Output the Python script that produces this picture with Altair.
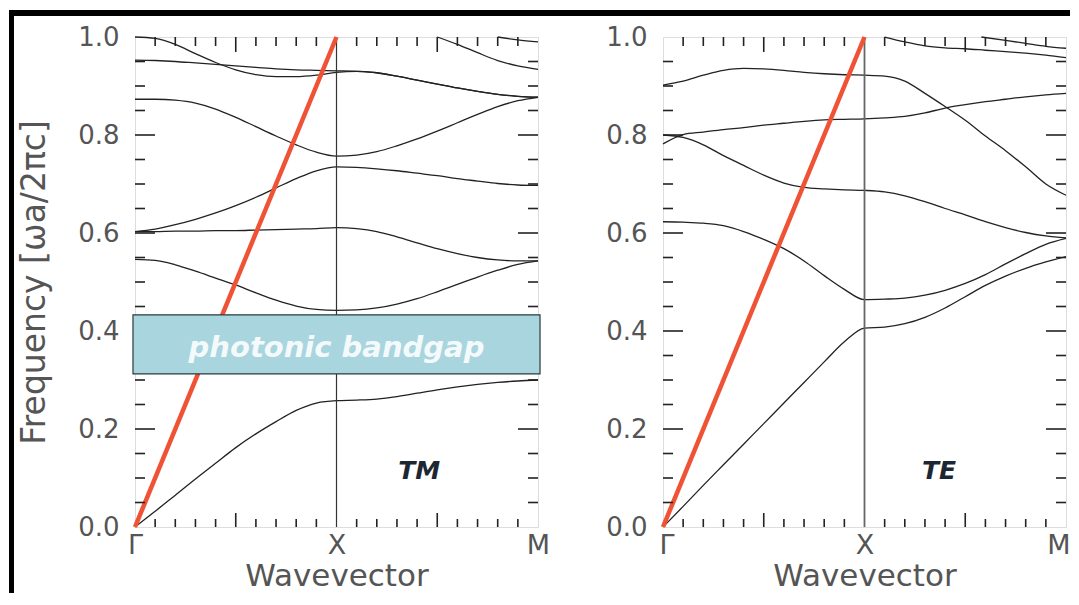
import altair as alt
import pandas as pd

# ---------------- data ----------------
K = [0.0, 0.1, 0.2, 0.3, 0.4, 0.5, 0.6, 0.7, 0.8, 0.9, 1.0,
     1.1, 1.2, 1.3, 1.4, 1.5, 1.6, 1.7, 1.8, 1.9, 2.0]

# TM bands (frequency values on the K grid)
tm1 = [0.000, 0.032, 0.065, 0.098, 0.130, 0.162, 0.190, 0.215, 0.238, 0.253, 0.258,
       0.259, 0.261, 0.266, 0.273, 0.280, 0.286, 0.291, 0.295, 0.298, 0.300]
tm2 = [0.546, 0.544, 0.535, 0.522, 0.508, 0.494, 0.478, 0.463, 0.451, 0.444, 0.442,
       0.443, 0.447, 0.455, 0.466, 0.480, 0.495, 0.510, 0.524, 0.536, 0.543]
tm3 = [0.603, 0.603, 0.604, 0.604, 0.605, 0.605, 0.606, 0.607, 0.608, 0.609, 0.611,
       0.609, 0.603, 0.592, 0.580, 0.568, 0.558, 0.550, 0.545, 0.543, 0.543]
tm4 = [0.603, 0.608, 0.617, 0.628, 0.641, 0.656, 0.673, 0.692, 0.711, 0.727, 0.735,
       0.734, 0.731, 0.727, 0.722, 0.717, 0.711, 0.706, 0.701, 0.698, 0.697]
tm5 = [0.873, 0.873, 0.871, 0.865, 0.853, 0.836, 0.817, 0.798, 0.780, 0.765, 0.757,
       0.759, 0.766, 0.778, 0.792, 0.808, 0.825, 0.842, 0.858, 0.870, 0.877]
tm6 = [0.953, 0.952, 0.950, 0.947, 0.944, 0.941, 0.938, 0.935, 0.933, 0.932, 0.931,
       0.930, 0.927, 0.920, 0.912, 0.904, 0.896, 0.889, 0.883, 0.879, 0.877]
tm7 = [1.000, 0.997, 0.985, 0.966, 0.948, 0.933, 0.923, 0.919, 0.919, 0.922, 0.928,
       0.930, 0.927, 0.920, 0.912, 0.904, 0.896, 0.889, 0.883, 0.879, 0.877]
tm8_k = [1.5, 1.6, 1.7, 1.8, 1.9, 2.0]
tm8 = [1.000, 0.985, 0.968, 0.952, 0.941, 0.934]
tm9_k = [1.8, 1.9, 2.0]
tm9 = [1.000, 0.994, 0.990]

# TE bands
te1 = [0.000, 0.042, 0.085, 0.127, 0.169, 0.211, 0.253, 0.295, 0.337, 0.378, 0.406,
       0.408, 0.415, 0.428, 0.447, 0.470, 0.493, 0.512, 0.528, 0.541, 0.552]
te2 = [0.623, 0.622, 0.620, 0.615, 0.603, 0.587, 0.568, 0.543, 0.513, 0.485, 0.464,
       0.465, 0.467, 0.473, 0.483, 0.497, 0.515, 0.537, 0.558, 0.577, 0.589]
te3 = [0.800, 0.795, 0.780, 0.758, 0.738, 0.718, 0.702, 0.693, 0.690, 0.688, 0.687,
       0.684, 0.676, 0.664, 0.650, 0.637, 0.623, 0.611, 0.601, 0.594, 0.590]
te4 = [0.782, 0.801, 0.806, 0.811, 0.815, 0.820, 0.824, 0.828, 0.831, 0.832, 0.833,
       0.835, 0.838, 0.845, 0.855, 0.862, 0.868, 0.873, 0.878, 0.882, 0.885]
te5 = [0.902, 0.910, 0.922, 0.932, 0.936, 0.935, 0.932, 0.928, 0.925, 0.923, 0.922,
       0.920, 0.910, 0.885, 0.858, 0.830, 0.798, 0.768, 0.735, 0.700, 0.677]
te6_k = [1.1, 1.2, 1.3, 1.4, 1.5, 1.6, 1.7, 1.8, 1.9, 2.0]
te6 = [1.000, 0.990, 0.982, 0.978, 0.976, 0.973, 0.970, 0.967, 0.963, 0.958]
te7_k = [1.58, 1.7, 1.8, 1.9, 2.0]
te7 = [1.000, 0.993, 0.987, 0.981, 0.977]

light_k = [0.0, 1.0]
light_v = [0.0, 1.0]

gap_k = [-0.01, 2.01]
gap_v = [0.3125, 0.433]

y_major = [0.2, 0.4, 0.6, 0.8]
y_minor = [0.05, 0.1, 0.15, 0.25, 0.3, 0.35, 0.45, 0.5, 0.55, 0.65, 0.7, 0.75,
           0.85, 0.9, 0.95]
x_major = [0.5, 1.5]
x_minor = [0.1, 0.2, 0.3, 0.4, 0.6, 0.7, 0.8, 0.9, 1.1, 1.2, 1.3, 1.4, 1.6, 1.7, 1.8, 1.9]

y_labels = [0.0, 0.2, 0.4, 0.6, 0.8, 1.0]
x_labels = [0, 1, 2]
x_names = ["Γ", "X", "M"]

W, H = 403, 490
FONT = "DejaVu Sans"
GRAY = "#555555"


def bands_df(bands):
    rows = []
    for name, ks, vs in bands:
        for k, v in zip(ks, vs):
            rows.append({"band": name, "k": k, "v": v})
    return pd.DataFrame(rows)


tm_df = bands_df([("1", K, tm1), ("2", K, tm2), ("3", K, tm3), ("4", K, tm4),
                  ("5", K, tm5), ("6", K, tm6), ("7", K, tm7),
                  ("8", tm8_k, tm8), ("9", tm9_k, tm9)])
te_df = bands_df([("1", K, te1), ("2", K, te2), ("3", K, te3), ("4", K, te4),
                  ("5", K, te5), ("6", te6_k, te6), ("7", te7_k, te7)])

label_expr = ("datum.value == 0 ? '" + x_names[0] + "' : datum.value == 1 ? '"
              + x_names[1] + "' : '" + x_names[2] + "'")


def make_panel(df, tag, show_ytitle, with_gap, with_frame, tag_k, flush,
               xline_color, xline_width):
    xs = alt.Scale(domain=[0, 2], nice=False, zero=False)
    ys = alt.Scale(domain=[0, 1], nice=False, zero=False)
    x_kw = dict(values=x_labels, labelExpr=label_expr, ticks=False, domain=False,
                grid=False, labelFont=FONT, labelFontSize=27, labelColor=GRAY,
                labelPadding=5, title="Wavevector", titleFont=FONT,
                titleFontSize=31, titleFontWeight="normal", titleColor=GRAY,
                titlePadding=3)
    if flush:
        x_axis = alt.Axis(labelFlush=True, labelFlushOffset=4, **x_kw)
    else:
        x_axis = alt.Axis(labelFlush=False, **x_kw)
    y_axis_kw = dict(values=y_labels, format=".1f", ticks=False, domain=False, grid=False,
                     labelFont=FONT, labelFontSize=26, labelColor=GRAY, labelPadding=16)
    if show_ytitle:
        y_axis = alt.Axis(title="Frequency [ωa/2πc]", titleFont=FONT, titleFontSize=33,
                          titleFontWeight="normal", titleColor=GRAY, titlePadding=26,
                          **y_axis_kw)
    else:
        y_axis = alt.Axis(title=None, **y_axis_kw)

    X = alt.X("k:Q", scale=xs, axis=x_axis)
    Y = alt.Y("v:Q", scale=ys, axis=y_axis)

    layers = []
    lines = alt.Chart(df).mark_line(color="#222222", strokeWidth=1.3,
                                    interpolate="monotone").encode(
        x=X, y=Y, detail="band:N")
    layers.append(lines)

    xline = alt.Chart(pd.DataFrame({"k": [1.0], "v": [0.0], "v2": [1.0]})).mark_rule(
        color=xline_color, strokeWidth=xline_width).encode(x=X, y=Y, y2="v2:Q")
    layers.append(xline)

    light = alt.Chart(pd.DataFrame({"k": light_k, "v": light_v})).mark_line(
        color="#ef5235", strokeWidth=4.5).encode(x=X, y=Y)
    layers.append(light)

    # inward ticks
    ymaj = pd.DataFrame({"v": y_major})
    ymin = pd.DataFrame({"v": y_minor})
    layers.append(alt.Chart(ymaj).mark_rule(color="#222", strokeWidth=1.6).encode(
        y=Y, x=alt.value(0), x2=alt.value(20)))
    layers.append(alt.Chart(ymaj).mark_rule(color="#222", strokeWidth=1.6).encode(
        y=Y, x=alt.value(W), x2=alt.value(W - 20)))
    layers.append(alt.Chart(ymin).mark_rule(color="#222", strokeWidth=1.6).encode(
        y=Y, x=alt.value(0), x2=alt.value(10)))
    layers.append(alt.Chart(ymin).mark_rule(color="#222", strokeWidth=1.6).encode(
        y=Y, x=alt.value(W), x2=alt.value(W - 10)))
    xmaj = pd.DataFrame({"k": x_major})
    xmin = pd.DataFrame({"k": x_minor})
    layers.append(alt.Chart(xmaj).mark_rule(color="#222", strokeWidth=1.6).encode(
        x=X, y=alt.value(H), y2=alt.value(H - 14)))
    layers.append(alt.Chart(xmaj).mark_rule(color="#222", strokeWidth=1.6).encode(
        x=X, y=alt.value(0), y2=alt.value(15)))
    layers.append(alt.Chart(xmin).mark_rule(color="#222", strokeWidth=1.6).encode(
        x=X, y=alt.value(H), y2=alt.value(H - 8)))
    layers.append(alt.Chart(xmin).mark_rule(color="#222", strokeWidth=1.6).encode(
        x=X, y=alt.value(0), y2=alt.value(9)))

    if with_gap:
        gdf = pd.DataFrame({"k": [gap_k[0]], "k2": [gap_k[1]],
                            "v": [gap_v[0]], "v2": [gap_v[1]]})
        layers.append(alt.Chart(gdf).mark_rect(fill="#a9d6de", stroke="#2a3a3e",
                                               strokeWidth=1.2).encode(
            x=X, x2="k2:Q", y=Y, y2="v2:Q"))
        tdf = pd.DataFrame({"k": [1.0], "v": [0.366], "t": ["photonic bandgap"]})
        layers.append(alt.Chart(tdf).mark_text(font=FONT, fontSize=29, fontStyle="italic",
                                               fontWeight="bold", color="white",
                                               opacity=0.88).encode(
            x=X, y=Y, text="t:N"))

    tagdf = pd.DataFrame({"k": [tag_k], "v": [0.114], "t": [tag]})
    layers.append(alt.Chart(tagdf).mark_text(font=FONT, fontSize=25, fontStyle="italic",
                                             fontWeight="bold", color="#1c2733").encode(
        x=X, y=Y, text="t:N"))

    if with_frame:
        one = pd.DataFrame({"a": [0]})
        layers.append(alt.Chart(one).mark_rect(color="black").encode(
            x=alt.value(-126), x2=alt.value(935), y=alt.value(-27), y2=alt.value(-21)))
        layers.append(alt.Chart(one).mark_rect(color="black").encode(
            x=alt.value(-126), x2=alt.value(-121), y=alt.value(-27), y2=alt.value(556)))

    return alt.layer(*layers).properties(width=W, height=H)


left = make_panel(tm_df, "TM", True, True, True, 1.41, False, "#333333", 1.2)
right = make_panel(te_df, "TE", False, False, False, 1.37, True, "#666666", 1.8)

chart = alt.hconcat(left, right, spacing=125, bounds="flush").properties(
    padding={"left": 0, "top": 1, "right": 0, "bottom": 0}
).configure_view(stroke="black", strokeWidth=2.5).configure(background="white")

chart.save("out.html", embed_options={"renderer": "svg", "actions": False})
